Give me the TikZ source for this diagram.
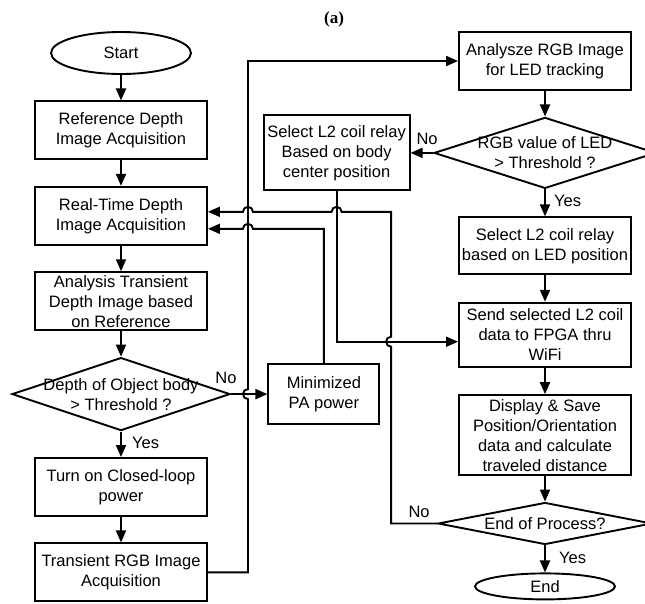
\documentclass[tikz,border=0pt]{standalone}
\usepackage{fontspec}
\setmainfont{Liberation Sans}
\newfontfamily\captionserif{Liberation Serif}
\usepackage{tikz}
\usetikzlibrary{arrows.meta, positioning, shapes.geometric, calc}
\newcommand{\flowfont}{\fontsize{16.5}{20}\selectfont}

\begin{document}
\begin{tikzpicture}[
    x=1pt, y=1pt,
    node distance=25.5pt and 22.5pt, % vertical and horizontal distance
    block/.style={
        rectangle,
        draw,
        line width=1.9pt,
        minimum width=172pt,
        minimum height=58pt,
        align=center,
        inner sep=2pt,
        font=\flowfont
    },
    decision/.style={
        diamond,
        draw,
        line width=1.9pt,
        aspect=3,
        inner xsep=-40pt,
        inner ysep=-8pt,
        minimum width=218pt,
        minimum height=73pt,
        align=center,
        font=\flowfont
    },
    terminal/.style={
        ellipse,
        draw,
        line width=1.9pt,
        minimum width=140pt,
        minimum height=42pt,
        inner sep=0pt,
        font=\flowfont
    },
    arrow/.style={line width=1.9pt, -{Triangle[length=12pt,width=10pt]}},
    tag/.style={font=\flowfont, inner sep=1pt}
]
\useasboundingbox (0,0) rectangle (645,-603);

% ========== left column: depth image ==========
\node[terminal] (start) at (121,-53) {Start};
\node[block, below=of start] (refdepth) {Reference Depth\\Image Acquisition};
\node[block, below=of refdepth] (rtdepth) {Real-Time Depth\\Image Acquisition};
\node[block, below=of rtdepth] (anadepth) {Analysis Transient\\Depth Image based\\on Reference};
\node[decision, below=of anadepth] (depthq) {Depth of Object body\\> Threshold ?};
\node[block, below=of depthq] (closedloop) {Turn on Closed-loop\\power};
\node[block, below=of closedloop] (rgbacq) {Transient RGB Image\\Acquisition};
\node[block, right=36.5pt of depthq, minimum width=111pt, minimum height=60pt] (minpa) {Minimized\\PA power};

% ========== right column: LED tracking ==========
\node[block] (rgbtrack) at (545,-61) {Analysze RGB Image\\for LED tracking};
\node[decision, below=of rgbtrack, minimum width=222pt, minimum height=71pt] (ledq) {RGB value of LED\\> Threshold ?};
\node[block, below=27pt of ledq, minimum height=57pt] (ledrelay) {Select L2 coil relay\\based on LED position};
\node[block, below=26.5pt of ledrelay, minimum height=64pt] (sendfpga) {Send selected L2 coil\\data to FPGA thru\\WiFi};
\node[block, below=26.5pt of sendfpga, minimum height=80pt] (display) {Display \& Save\\Position/Orientation\\data and calculate\\traveled distance};
\node[decision, below=of display, minimum width=214pt, minimum height=42pt] (endq) {End of Process?};
\node[terminal, below=27pt of endq, minimum height=26pt] (stop) {End};
\node[block, left=of ledq, minimum width=146pt, minimum height=75pt] (bodyrelay) {Select L2 coil relay\\Based on body\\center position};

% ========== bends for the long wires ==========
\coordinate (busx) at ([xshift=40pt]rgbacq.east);
\coordinate (loopx) at ([xshift=-46pt]endq.west);
\coordinate (rtin1) at ([yshift=4pt]rtdepth.east);
\coordinate (rtin2) at ([yshift=-13pt]rtdepth.east);
\coordinate (sendin) at ([yshift=-7pt]sendfpga.west);

% ========== connectors ==========
\draw[arrow] (start) -- (refdepth);
\draw[arrow] (refdepth) -- (rtdepth);
\draw[arrow] (rtdepth) -- (anadepth);
\draw[arrow] (anadepth) -- (depthq);
\draw[arrow] (depthq) -- (closedloop);
\draw[arrow] (closedloop) -- (rgbacq);
\draw[arrow] (depthq.east) -- (depthq.east -| minpa.west);

\draw[arrow] (rgbtrack) -- (ledq);
\draw[arrow] (ledq) -- (ledrelay);
\draw[arrow] (ledq.west) -- (bodyrelay.east);
\draw[arrow] (ledrelay) -- (sendfpga);
\draw[arrow] (sendfpga) -- (display);
\draw[arrow] (display) -- (endq);
\draw[arrow] (endq) -- (stop);

% long wires, with hops where they cross
\draw[arrow] (rgbacq.east) -- (busx) -- ($(busx |- depthq.east)+(0,-5pt)$)
    arc[start angle=270, end angle=90, radius=5pt] |- (rgbtrack.west);
\draw[arrow] (bodyrelay.south) |- (sendin);
\draw[arrow] (endq.west) -- (loopx) -- ($(loopx |- sendin)+(0,-5pt)$)
    arc[start angle=270, end angle=90, radius=5pt] -- (loopx |- rtin1)
    -- ($(bodyrelay.south |- rtin1)+(5pt,0)$) arc[start angle=0, end angle=180, radius=5pt]
    -- ($(busx |- rtin1)+(5pt,0)$) arc[start angle=0, end angle=180, radius=5pt] -- (rtin1);
\draw[arrow] (minpa.north) |- ($(busx |- rtin2)+(5pt,0)$)
    arc[start angle=0, end angle=180, radius=5pt] -- (rtin2);

% ========== branch labels ==========
\node[tag, anchor=base] (nodepth) at ([xshift=-5pt,yshift=11pt]depthq.east) {No};
\node[tag, anchor=base west] (yesdepth) at ([xshift=10pt,yshift=9pt]closedloop.north) {Yes};
\node[tag, anchor=base] (noled) at ([xshift=-6pt,yshift=8pt]ledq.west) {No};
\node[tag, anchor=base west] (yesled) at ([xshift=8pt,yshift=10pt]ledrelay.north) {Yes};
\node[tag, anchor=base] (noend) at ([xshift=-18pt,yshift=6pt]endq.west) {No};
\node[tag, anchor=base west] (yesend) at ([xshift=13pt,yshift=9pt]stop.north) {Yes};

\node[font=\captionserif\bfseries\fontsize{17}{20}\selectfont] (caption) at (334,-19) {(a)};

\end{tikzpicture}
\end{document}
